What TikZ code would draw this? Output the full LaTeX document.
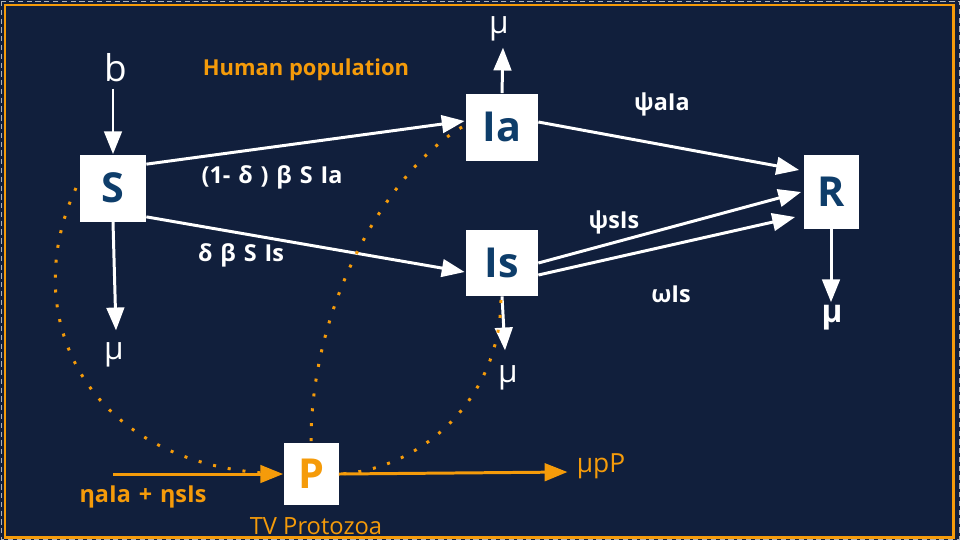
\documentclass[tikz,border=0pt]{standalone}
\usepackage{fontspec}
\setmainfont{Open Sans}
\newfontfamily\labfont[WordSpace=1.3]{Open Sans}
\usepackage{tikz}
\usetikzlibrary{calc,arrows.meta}
\definecolor{navy}{RGB}{17,31,60}
\definecolor{amber}{RGB}{245,155,10}
\definecolor{boxtext}{RGB}{14,61,106}

\begin{document}
\begin{tikzpicture}[x=0.2mm,y=-0.2mm,>={Triangle[length=13pt,width=10pt]},
  comp/.style={fill=white,text=boxtext,font=\fontsize{23.5}{26}\selectfont\bfseries,inner sep=0pt},
  lab/.style={text=white,font=\labfont\fontsize{13.3}{15}\selectfont\bfseries,inner sep=0pt},
  mulab/.style={text=white,font=\fontsize{18}{21}\selectfont,inner sep=0pt},
  flow/.style={->,white,line width=1.7pt},
  pflow/.style={->,amber,line width=1.7pt},
  link/.style={amber,line width=1.7pt,dash pattern=on 1.7pt off 6.8pt}]
% background and frame
\fill[navy] (0,0) rectangle (960,540);
\draw[gray!60,densely dashed,line width=0.3pt] (1,1) rectangle (959,539);
\draw[amber,line width=1.7pt] (5,5) rectangle (953,537);

% compartments
\node[comp,minimum width=66*0.2mm,minimum height=67*0.2mm] (S) at (113,188) {S};
\node[comp,minimum width=72*0.2mm,minimum height=67*0.2mm] (Ia) at (502,127) {Ia};
\node[comp,minimum width=72*0.2mm,minimum height=66*0.2mm] (Is) at (502,263) {Is};
\node[comp,minimum width=55*0.2mm,minimum height=74*0.2mm] (R) at (831,192) {R};
\node[comp,text=amber,minimum width=55*0.2mm,minimum height=62*0.2mm] (P) at (311,474) {P};

% texts
\node[mulab,font=\fontsize{21}{24}\selectfont] (b) at (116,68) {b};
\node[lab,text=amber,font=\fontsize{12.5}{14}\selectfont\bfseries] (hum) at (306,70) {Human population};
\node[mulab] (muIa) at (499,29) {μ};
\node[mulab] (muS) at (114,355) {μ};
\node[mulab] (muIs) at (508,378) {μ};
\node[mulab,font=\fontsize{18}{21}\selectfont\bfseries] (muR) at (832,318) {μ};
\node[lab] (infa) at (272,177) {(1- δ ) β S Ia};
\node[lab] (infs) at (241,255) {δ β S Is};
\node[lab] (reca) at (662,104) {ψaIa};
\node[lab] (recs) at (614,222) {ψsIs};
\node[lab] (wan) at (671,294) {ωIs};
\node[lab,text=amber] (shed) at (143,497) {ηaIa + ηsIs};
\node[lab,text=amber,font=\fontsize{13.5}{15}\selectfont] (tv) at (316,526) {TV Protozoa};
\node[lab,text=amber,font=\fontsize{15}{17}\selectfont] (mupP) at (601,466) {μpP};
\coordinate (pin) at (113,474);

% human flows
\draw[flow] (b.south) ++(-3,6) -- (S.north);
\draw[flow] ($(S.north east)+(0,10)$) -- ($(Ia.west)+(-1,-6)$);
\draw[flow] ($(S.south east)+(0,-5)$) -- ($(Is.west)+(-1,9)$);
\draw[flow] (S.south) -- ($(muS.north)+(2,-12)$);
\draw[flow] (Ia.north) -- ($(muIa.south)+(4,6)$);
\draw[flow] ($(Ia.east)+(0,-5)$) -- ($(R.west)+(-4,-22)$);
\draw[flow] (Is.east) -- ($(R.west)+(-2,0)$);
\draw[flow] ($(Is.east)+(0,12)$) -- ($(R.west)+(-8,25)$);
\draw[flow] (Is.south) -- ($(muIs.north)+(-3,-15)$);
\draw[flow] (R.south) -- ($(muR.north)+(-1,-3)$);

% protozoa
\draw[pflow] (pin) -- (P.west);
\draw[pflow] (P.east) -- ($(mupP.west)+(-9,6)$);
\draw[link] (76,188) .. controls (15,320) and (90,470) .. (P.west);
\draw[link] (462,127) .. controls (390,170) and (311,300) .. (P.north);
\draw[link] (501,300) .. controls (500,400) and (420,470) .. (P.east);
\end{tikzpicture}
\end{document}
